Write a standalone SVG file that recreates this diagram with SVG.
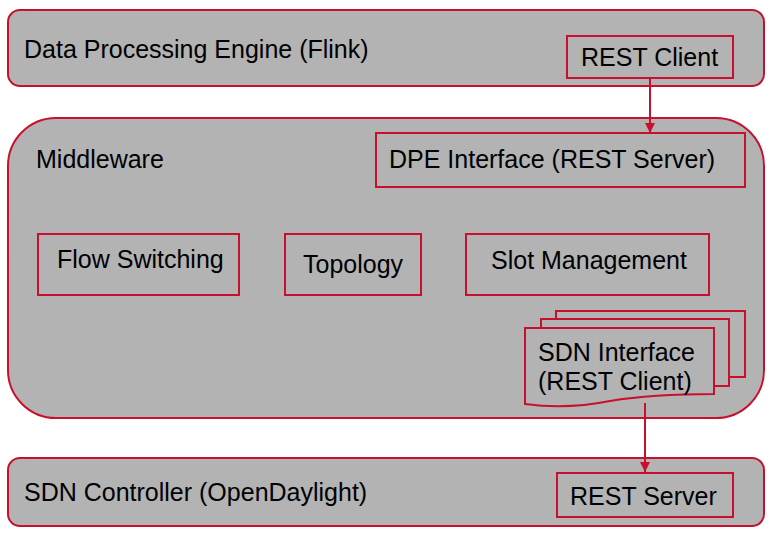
<svg xmlns="http://www.w3.org/2000/svg" width="772" height="535" viewBox="0 0 772 535">
<defs>
<style>
.c{fill:#b3b3b3;stroke:#c8102e;stroke-width:2}
.b{fill:none;stroke:#c8102e;stroke-width:2}
.t{font-family:"Liberation Sans",Arial,sans-serif;font-size:25px;fill:#000}
.k{stroke:#c8102e;stroke-width:2;fill:none}
</style>
<marker id="ah" viewBox="0 0 10 10" refX="10" refY="5" markerWidth="5.5" markerHeight="5" orient="auto" markerUnits="strokeWidth">
<path d="M0,0L10,5L0,10z" fill="#c8102e"/>
</marker>
</defs>
<rect width="772" height="535" fill="#fff"/>
<g id="dpe">
<rect class="c" x="8" y="10" width="756" height="76" rx="12"/>
<text class="t" x="24" y="58">Data Processing Engine (Flink)</text>
</g>
<g id="rest-client">
<rect class="b" x="567" y="36" width="166" height="42"/>
<text class="t" x="581" y="66">REST Client</text>
</g>
<g id="middleware">
<rect class="c" x="8" y="118" width="756" height="300" rx="48"/>
<text class="t" x="36" y="168">Middleware</text>
</g>
<g id="dpe-interface">
<rect class="b" x="376" y="133" width="369" height="54"/>
<text class="t" x="389" y="168">DPE Interface (REST Server)</text>
</g>
<g id="flow-switching">
<rect class="b" x="38" y="234" width="201" height="61"/>
<text class="t" x="57" y="268">Flow Switching</text>
</g>
<g id="topology">
<rect class="b" x="285" y="234" width="136" height="61"/>
<text class="t" x="303" y="273">Topology</text>
</g>
<g id="slot-management">
<rect class="b" x="466" y="234" width="243" height="61"/>
<text class="t" x="491" y="269">Slot Management</text>
</g>
<g id="sdn-interface">
<rect class="c" x="556" y="311" width="189" height="66"/>
<rect class="c" x="541" y="319" width="188" height="67"/>
<path class="c" d="M525,328H714V394C680,394 640,396 610,401C580,407 555,408 525,404Z"/>
<text class="t" x="538" y="361">SDN Interface</text>
<text class="t" x="538" y="390">(REST Client)</text>
</g>
<g id="sdn-controller">
<rect class="c" x="8" y="458" width="756" height="68" rx="12"/>
<text class="t" x="24" y="501">SDN Controller (OpenDaylight)</text>
</g>
<g id="rest-server">
<rect class="b" x="557" y="473" width="176" height="44"/>
<text class="t" x="570" y="505">REST Server</text>
</g>
<g id="connectors">
<line class="k" x1="650" y1="78" x2="650" y2="133" marker-end="url(#ah)"/>
<line class="k" x1="645" y1="403" x2="645" y2="472" marker-end="url(#ah)"/>
</g>
</svg>
